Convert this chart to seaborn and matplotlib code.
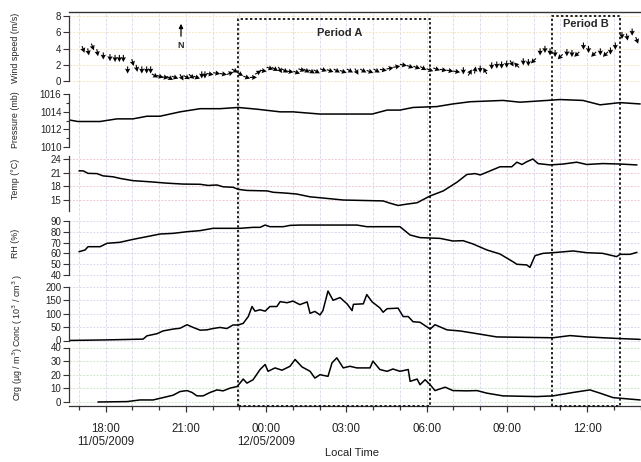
import numpy as np
import pandas as pd
import seaborn as sns
import matplotlib
matplotlib.use("Agg")
import matplotlib.pyplot as plt
from matplotlib.transforms import blended_transform_factory, ScaledTranslation
from matplotlib.lines import Line2D

sns.set_theme(style="white")
plt.rcParams['font.family'] = ['Liberation Sans', 'DejaVu Sans']

# ---------------- data (hours since 11/05/2009 00:00) ----------------
wind_t = [17.16, 17.35, 17.51, 17.69, 17.91, 18.16, 18.35, 18.51, 18.66, 18.82, 19.01, 19.16,
          19.35, 19.53, 19.68, 19.84, 20.03, 20.22, 20.40, 20.59, 20.84, 21.03, 21.21, 21.40,
          21.59, 21.71, 21.90, 22.15, 22.40, 22.65, 22.83, 23.02, 23.27, 23.52, 23.70, 23.89,
          24.14, 24.33, 24.52, 24.70, 24.89, 25.14, 25.33, 25.51, 25.70, 25.89, 26.14, 26.39,
          26.64, 26.88, 27.13, 27.38, 27.63, 27.88, 28.13, 28.38, 28.63, 28.88, 29.13, 29.38,
          29.63, 29.87, 30.12, 30.37, 30.62, 30.87, 31.12, 31.37, 31.62, 31.81, 32.00, 32.18,
          32.43, 32.62, 32.80, 32.99, 33.18, 33.36, 33.61, 33.80, 33.99, 34.24, 34.42, 34.61,
          34.80, 34.99, 35.24, 35.43, 35.61, 35.86, 36.05, 36.24, 36.49, 36.68, 36.87, 37.05,
          37.30, 37.49, 37.68, 37.86]
wind_speed = [3.9, 3.6, 4.2, 3.5, 3.1, 2.9, 2.8, 2.8, 2.8, 1.4, 2.3, 1.6,
              1.4, 1.4, 1.4, 0.7, 0.6, 0.5, 0.4, 0.5, 0.5, 0.5, 0.6, 0.5,
              0.8, 0.8, 0.9, 1.0, 0.9, 1.0, 1.3, 0.9, 0.5, 0.5, 1.1, 1.3,
              1.6, 1.5, 1.4, 1.3, 1.2, 1.1, 1.4, 1.3, 1.2, 1.2, 1.4, 1.3,
              1.3, 1.2, 1.3, 1.2, 1.3, 1.2, 1.3, 1.4, 1.6, 1.8, 2.0, 1.8,
              1.7, 1.6, 1.4, 1.5, 1.4, 1.3, 1.2, 1.3, 1.1, 1.4, 1.5, 1.3,
              1.9, 2.0, 2.0, 2.1, 2.2, 2.0, 2.4, 2.3, 2.5, 3.6, 3.9, 3.6,
              3.4, 3.0, 3.5, 3.4, 3.3, 4.3, 3.9, 3.3, 3.6, 3.3, 3.7, 4.3,
              5.6, 5.4, 6.0, 5.0]
wind_angle = [-70, -80, -70, -80, -90, -90, -90, -90, -90, -90, -75, -80,
              -90, -90, -90, -30, -20, -10, -30, -20, -60, -30, -40, -20,
              -90, -90, -10, -10, -10, 20, -30, -30, -20, 0, 30, -10,
              -20, -30, -60, -30, -10, -20, -20, -30, -30, -30, -20, -20,
              -30, -20, -30, -60, -30, -20, -30, -10, 10, 10, -10, -20,
              -20, -30, -20, -20, -10, -10, -10, -90, 60, 80, -90, 120,
              -90, -90, -90, -90, -60, 135, -90, -90, -135, -90, -90, -90,
              -90, -135, -90, -90, -135, -90, -90, -135, -90, -135, -90, -90,
              -90, -80, -90, -70]

pres_t = [16.59, 16.96, 17.79, 18.42, 19.02, 19.54, 20.03, 20.78, 21.53, 22.27, 22.95, 23.66,
          24.52, 25.00, 26.01, 27.96, 28.52, 29.00, 29.49, 30.38, 30.98, 31.62, 32.85, 33.49,
          34.50, 34.98, 35.84, 36.48, 37.23, 37.98]
pres_v = [1013.1, 1012.9, 1012.9, 1013.2, 1013.2, 1013.5, 1013.5, 1014.0, 1014.36, 1014.36,
          1014.5, 1014.3, 1014.0, 1014.0, 1013.75, 1013.75, 1014.2, 1014.2, 1014.5, 1014.6,
          1014.9, 1015.15, 1015.3, 1015.1, 1015.3, 1015.4, 1015.3, 1014.8, 1015.05, 1014.9]

temp_t = [17.00, 17.16, 17.34, 17.67, 17.90, 18.27, 18.53, 19.02, 19.66, 20.29, 20.89, 21.53,
          21.83, 22.16, 22.39, 22.76, 22.95, 23.28, 24.03, 24.26, 24.78, 25.15, 25.64, 26.01,
          26.88, 28.37, 28.63, 28.93, 29.26, 29.64, 30.13, 30.62, 31.13, 31.50, 31.81, 32.00,
          32.25, 32.74, 33.18, 33.37, 33.56, 33.74, 33.97, 34.16, 34.61, 35.10, 35.61, 35.98,
          36.58, 37.23, 37.86]
temp_v = [21.4, 21.4, 20.85, 20.8, 20.3, 20.1, 19.75, 19.25, 19.0, 18.7, 18.5, 18.45,
          18.2, 18.3, 17.9, 17.8, 17.35, 17.1, 17.0, 16.7, 16.5, 16.3, 15.7, 15.5,
          15.0, 14.8, 14.3, 13.8, 14.1, 14.4, 15.9, 17.0, 18.9, 20.6, 20.8, 20.5,
          21.1, 22.3, 22.3, 23.3, 22.8, 23.4, 24.0, 23.0, 22.7, 22.9, 23.3, 22.8,
          23.0, 22.9, 22.7]

rh_t = [17.00, 17.23, 17.34, 17.79, 18.05, 18.53, 19.02, 19.54, 20.03, 20.52, 21.04, 21.53,
        22.01, 23.02, 23.51, 23.77, 23.96, 24.14, 24.64, 24.89, 25.26, 26.01, 27.39, 27.76,
        29.00, 29.38, 29.75, 30.50, 30.98, 31.36, 31.73, 32.25, 32.74, 33.22, 33.37, 33.74,
        33.86, 34.05, 34.35, 34.72, 35.47, 35.98, 36.58, 37.10, 37.23, 37.60, 37.86]
rh_v = [61.6, 63.2, 66.2, 66.2, 69.3, 70.2, 72.9, 75.4, 77.8, 78.4, 79.9, 80.9,
        83.0, 83.0, 83.9, 83.9, 86.0, 84.5, 84.5, 85.7, 86.0, 86.0, 86.0, 84.5,
        84.5, 76.9, 74.5, 73.8, 71.4, 71.7, 68.7, 63.2, 59.5, 52.5, 50.1, 49.5,
        47.3, 58.0, 60.1, 60.7, 62.3, 60.7, 60.1, 57.1, 59.2, 59.2, 61.0]

conc_t = [16.60, 18.00, 19.40, 19.54, 19.92, 20.14, 20.52, 20.78, 21.04, 21.27, 21.53, 21.78,
          22.01, 22.27, 22.53, 22.76, 22.95, 23.14, 23.33, 23.47, 23.58, 23.77, 23.96, 24.14,
          24.40, 24.52, 24.78, 25.00, 25.26, 25.53, 25.64, 25.82, 26.01, 26.12, 26.31, 26.50,
          26.76, 27.02, 27.21, 27.26, 27.63, 27.76, 27.96, 28.25, 28.37, 28.52, 28.93, 29.12,
          29.31, 29.49, 29.75, 30.13, 30.31, 30.76, 31.25, 31.88, 32.62, 34.72, 35.36, 35.98,
          37.23, 37.98]
conc_v = [2, 4, 7, 19, 27, 37, 44, 47, 60, 50, 40, 41,
          46, 50, 46, 59, 59, 65, 90, 127, 110, 115, 110, 127,
          127, 145, 141, 147, 134, 144, 102, 109, 96, 112, 184, 150,
          160, 137, 112, 135, 137, 171, 144, 122, 106, 119, 121, 90,
          90, 71, 69, 44, 60, 41, 37, 27, 15, 12, 20, 15,
          9, 6]

org_t = [17.71, 18.80, 19.28, 19.77, 20.03, 20.52, 20.78, 21.04, 21.23, 21.41, 21.64, 21.90,
         22.16, 22.39, 22.65, 22.91, 23.02, 23.14, 23.28, 23.51, 23.77, 23.96, 24.07, 24.33,
         24.59, 24.89, 25.08, 25.34, 25.64, 25.82, 26.01, 26.31, 26.46, 26.64, 26.88, 27.13,
         27.39, 27.88, 27.99, 28.25, 28.52, 28.74, 29.00, 29.31, 29.38, 29.64, 29.75, 29.94,
         30.13, 30.31, 30.69, 30.98, 31.50, 31.88, 32.25, 32.85, 34.12, 34.72, 35.47, 36.10,
         36.48, 36.97, 37.98]
org_v = [0.0, 0.3, 1.5, 1.5, 2.7, 5.0, 7.7, 8.4, 7.0, 4.5, 4.5, 7.0,
         8.9, 8.2, 10.2, 11.4, 13.9, 16.9, 13.9, 16.4, 23.9, 27.6, 22.6, 25.1,
         23.4, 26.3, 31.3, 25.8, 22.6, 17.6, 20.1, 18.9, 28.8, 32.5, 25.1, 26.3,
         25.1, 25.1, 30.1, 23.9, 22.6, 24.3, 22.6, 23.9, 15.2, 16.9, 12.7, 16.4,
         12.7, 8.4, 10.9, 8.4, 8.2, 8.4, 6.5, 4.5, 4.0, 4.5, 7.0, 8.9,
         6.5, 3.2, 1.5]

xtick_pos = [18, 21, 24, 27, 30, 33, 36]
xtick_labels = ["18:00\n11/05/2009", "21:00", "00:00\n12/05/2009", "03:00", "06:00", "09:00", "12:00"]

period_a = (22.96, 30.13)
period_b = (34.67, 37.23)

# ---------------- layout ----------------
W, H = 641, 462
fig = plt.figure(figsize=(W / 100, H / 100), dpi=100)
X0, X1 = 69, 641
XLIM = (16.628, 38.011)
VGRID = '#dcdcf0'

def add_ax(top, bottom):
    return fig.add_axes([X0 / W, 1 - bottom / H, (X1 - X0) / W, (bottom - top) / H])

panels = [
    dict(top=11.7, bottom=87, ylim=(-0.669, 8.486), ticks=[0, 2, 4, 6, 8], minor=[],
         bounds=(0, 8), grid='#f5e6c0', label="Wind speed (m/s)", ly=48, lx=15),
    dict(top=87, bottom=151, ylim=(1009.54, 1016.83), ticks=[1010, 1012, 1014, 1016],
         minor=[1011, 1013, 1015], bounds=(1010, 1016), grid=None, label="Pressure (mb)", ly=120, lx=15),
    dict(top=151, bottom=215, ylim=(11.71, 25.76), ticks=[15, 18, 21, 24], minor=[],
         bounds=(12.5, 24.7), grid='#eec8d2', label="Temp (°C)", ly=179, lx=15),
    dict(top=215, bottom=281, ylim=(34.8, 95.2), ticks=[40, 50, 60, 70, 80, 90], minor=[],
         bounds=(40, 90), grid='#d8d8f0', label="RH (%)", ly=243, lx=15),
    dict(top=281, bottom=344, ylim=(-11, 221), ticks=[0, 50, 100, 150, 200], minor=[],
         bounds=(0, 200), grid='#d8d8f0', label="Conc ( 10$^3$ / cm$^3$ )", ly=310, lx=18),
    dict(top=344, bottom=406, ylim=(-2.95, 42.7), ticks=[0, 10, 20, 30, 40], minor=[],
         bounds=(0, 40), grid='#cfe8c8', label="Org (µg / m$^3$)", ly=374, lx=18),
]

axes = []
for p in panels:
    ax = add_ax(p['top'], p['bottom'])
    ax.set_facecolor('none')
    ax.set_xlim(*XLIM)
    ax.set_ylim(*p['ylim'])
    for s in ['top', 'right', 'bottom']:
        ax.spines[s].set_visible(False)
    ax.spines['left'].set_bounds(*p['bounds'])
    ax.spines['left'].set_color('#333333')
    ax.spines['left'].set_linewidth(0.9)
    ax.set_yticks(p['ticks'])
    ax.set_yticks(p['minor'], minor=True)
    ax.tick_params(axis='y', which='major', direction='out', length=4, width=0.8,
                   color='#333333', labelsize=7, pad=1.5, labelcolor='#222222', left=True)
    ax.tick_params(axis='y', which='minor', direction='out', length=2.2, width=0.8,
                   color='#333333', left=True)
    for h in range(17, 39):
        ax.axvline(h, color=VGRID, lw=0.7, ls=(0, (3, 1.5)), zorder=0)
    if p['grid']:
        for t in p['ticks']:
            ax.axhline(t, color=p['grid'], lw=0.7, ls=(0, (2, 1.5)), zorder=0)
    ax.set_xticks([])
    ax.set_ylabel("")
    fig.text(p['lx'] / W, 1 - p['ly'] / H, p['label'], rotation=90, ha='center', va='center',
             fontsize=6.4, color='#222222')
    axes.append(ax)

ax_w, ax_p, ax_t, ax_rh, ax_c, ax_o = axes

ax_w.spines['top'].set_visible(True)
ax_w.spines['top'].set_color('#333333')
ax_w.spines['top'].set_linewidth(1.0)

# ---------------- series ----------------
df_p = pd.DataFrame({'t': pres_t, 'v': pres_v})
df_t = pd.DataFrame({'t': temp_t, 'v': temp_v})
df_rh = pd.DataFrame({'t': rh_t, 'v': rh_v})
df_c = pd.DataFrame({'t': conc_t, 'v': conc_v})
df_o = pd.DataFrame({'t': org_t, 'v': org_v})
for ax, df in [(ax_p, df_p), (ax_t, df_t), (ax_rh, df_rh), (ax_c, df_c), (ax_o, df_o)]:
    sns.lineplot(data=df, x='t', y='v', ax=ax, color='black', lw=1.1, estimator=None, sort=False)
    ax.set_xlabel("")
    ax.set_ylabel("")
    ax.set_xlim(*XLIM)

ang = np.deg2rad(np.array(wind_angle, dtype=float))
ax_w.quiver(wind_t, wind_speed, np.cos(ang), np.sin(ang), angles='uv', scale_units='inches',
            scale=14, pivot='middle', units='dots', width=1.1, headwidth=4.8, headlength=4.5,
            headaxislength=4.0, color='black', zorder=3)
ax_w.set_xlim(*XLIM)

ax_w.annotate("", xy=(181, H - 21), xytext=(181, H - 39), xycoords='figure pixels',
              textcoords='figure pixels',
              arrowprops=dict(arrowstyle='-|>', lw=0.9, color='black', mutation_scale=6))
fig.text(181 / W, 1 - 45 / H, "N", ha='center', va='center', fontsize=6.5, fontweight='bold')

ax_o.spines['bottom'].set_visible(True)
ax_o.spines['bottom'].set_color('#333333')
ax_o.spines['bottom'].set_linewidth(0.9)
ax_o.set_xticks(xtick_pos)
ax_o.set_xticklabels(xtick_labels)
ax_o.set_xticks(list(range(17, 39)), minor=True)
ax_o.tick_params(axis='x', which='major', direction='out', length=4.5, width=0.9, color='#333333',
                 labelsize=8.3, pad=8, labelcolor='#222222', bottom=True)
ax_o.tick_params(axis='x', which='minor', direction='out', length=2.8, width=0.9, color='#333333',
                 bottom=True)
for lab in ax_o.get_xticklabels():
    lab.set_linespacing(1.05)
fig.text(352 / W, 1 - 453 / H, "Local Time", ha='center', va='center', fontsize=8, color='#222222')

# nudge the touching "0" (Conc) and "40" (Org) tick labels slightly apart
for lab in ax_c.get_yticklabels():
    if lab.get_text() == '0':
        lab.set_verticalalignment('bottom')
        lab.set_transform(lab.get_transform() + ScaledTranslation(0, -3.5 / 72, fig.dpi_scale_trans))
for lab in ax_o.get_yticklabels():
    if lab.get_text() == '40':
        lab.set_verticalalignment('top')
        lab.set_transform(lab.get_transform() + ScaledTranslation(0, 3.5 / 72, fig.dpi_scale_trans))

tr = blended_transform_factory(ax_o.transData, fig.transFigure)
def box(x0, x1, top_px, bottom_px):
    yt, yb = 1 - top_px / H, 1 - bottom_px / H
    fig.add_artist(Line2D([x0, x0, x1, x1, x0], [yb, yt, yt, yb, yb], transform=tr,
                          color='#111111', lw=1.3, ls=(0, (1.3, 1.3)), clip_on=False, zorder=5))
box(period_a[0], period_a[1], 18.5, 406)
box(period_b[0], period_b[1], 15.5, 406)
fig.text(340 / W, 1 - 33 / H, "Period A", ha='center', va='center', fontsize=8, fontweight='bold')
fig.text(586 / W, 1 - 24 / H, "Period B", ha='center', va='center', fontsize=8, fontweight='bold')

fig.savefig("out.png", dpi=100)
